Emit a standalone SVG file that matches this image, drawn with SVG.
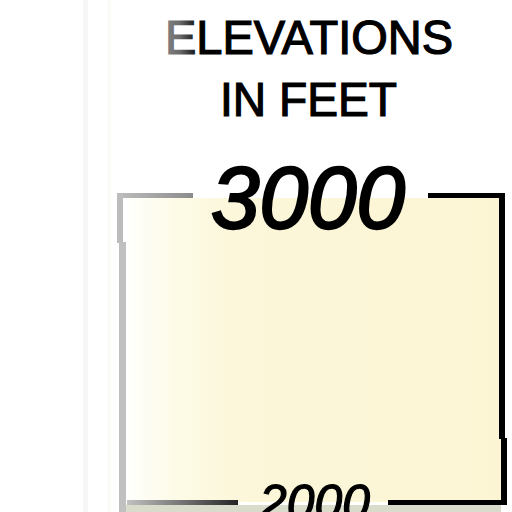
<svg xmlns="http://www.w3.org/2000/svg" width="512" height="512" viewBox="0 0 512 512">
<defs>
<linearGradient id="fillG" x1="123" y1="0" x2="500" y2="0" gradientUnits="userSpaceOnUse">
<stop offset="0" stop-color="#ffffff"/>
<stop offset="0.12" stop-color="#fdfbe9"/>
<stop offset="0.3" stop-color="#fcf7da"/>
<stop offset="1" stop-color="#fbf5d4"/>
</linearGradient>
<linearGradient id="titleG" x1="160" y1="0" x2="200" y2="0" gradientUnits="userSpaceOnUse">
<stop offset="0" stop-color="#8a8a8a"/>
<stop offset="0.5" stop-color="#6a6a6a"/>
<stop offset="1" stop-color="#000000"/>
</linearGradient>
<linearGradient id="leftLineTop" x1="117" y1="0" x2="195" y2="0" gradientUnits="userSpaceOnUse">
<stop offset="0" stop-color="#bdbdbd"/>
<stop offset="1" stop-color="#8a8a8a"/>
</linearGradient>
<linearGradient id="leftLineBot" x1="125" y1="0" x2="240" y2="0" gradientUnits="userSpaceOnUse">
<stop offset="0" stop-color="#c4c4c4"/>
<stop offset="1" stop-color="#222222"/>
</linearGradient>
</defs>
<style>
.title{font-family:"Liberation Sans",Arial,sans-serif;font-size:48px;fill:#000;stroke:#000;stroke-width:1.2px}
.num{font-family:"Liberation Sans",Arial,sans-serif;font-style:italic;fill:#000;stroke:#000}
</style>
<rect width="512" height="512" fill="#ffffff"/>
<rect x="83" y="0" width="5" height="512" fill="#f6f6f6"/>
<rect x="107" y="0" width="4" height="512" fill="#fbfbf8"/>
<g id="band">
<rect x="123" y="198" width="378" height="304" fill="url(#fillG)"/>
<rect x="123" y="505" width="378" height="7" fill="#d9dccb"/>
</g>
<g id="frame">
<rect x="117" y="193" width="76" height="5" fill="url(#leftLineTop)"/>
<rect x="117" y="193" width="6" height="50" fill="#bcbcbc"/>
<rect x="119" y="242" width="7" height="270" fill="#c0c0c0"/>
<rect x="428" y="193" width="77" height="5" fill="#000"/>
<rect x="499" y="193" width="6" height="246" fill="#000"/>
<rect x="501" y="438" width="6" height="67" fill="#000"/>
<rect x="127" y="500" width="111" height="5" fill="url(#leftLineBot)"/>
<rect x="388" y="500" width="117" height="5" fill="#000"/>
</g>
<g id="title">
<text class="title" x="165" y="54" textLength="288" lengthAdjust="spacingAndGlyphs" style="fill:url(#titleG);stroke:url(#titleG)">ELEVATIONS</text>
<text class="title" x="220" y="116" textLength="177" lengthAdjust="spacingAndGlyphs">IN FEET</text>
</g>
<g id="labels">
<text class="num" x="211" y="228" font-size="88" stroke-width="2.5" textLength="194" lengthAdjust="spacingAndGlyphs">3000</text>
<text class="num" x="259" y="520" font-size="50" stroke-width="1.2" textLength="111" lengthAdjust="spacingAndGlyphs">2000</text>
</g>
</svg>
